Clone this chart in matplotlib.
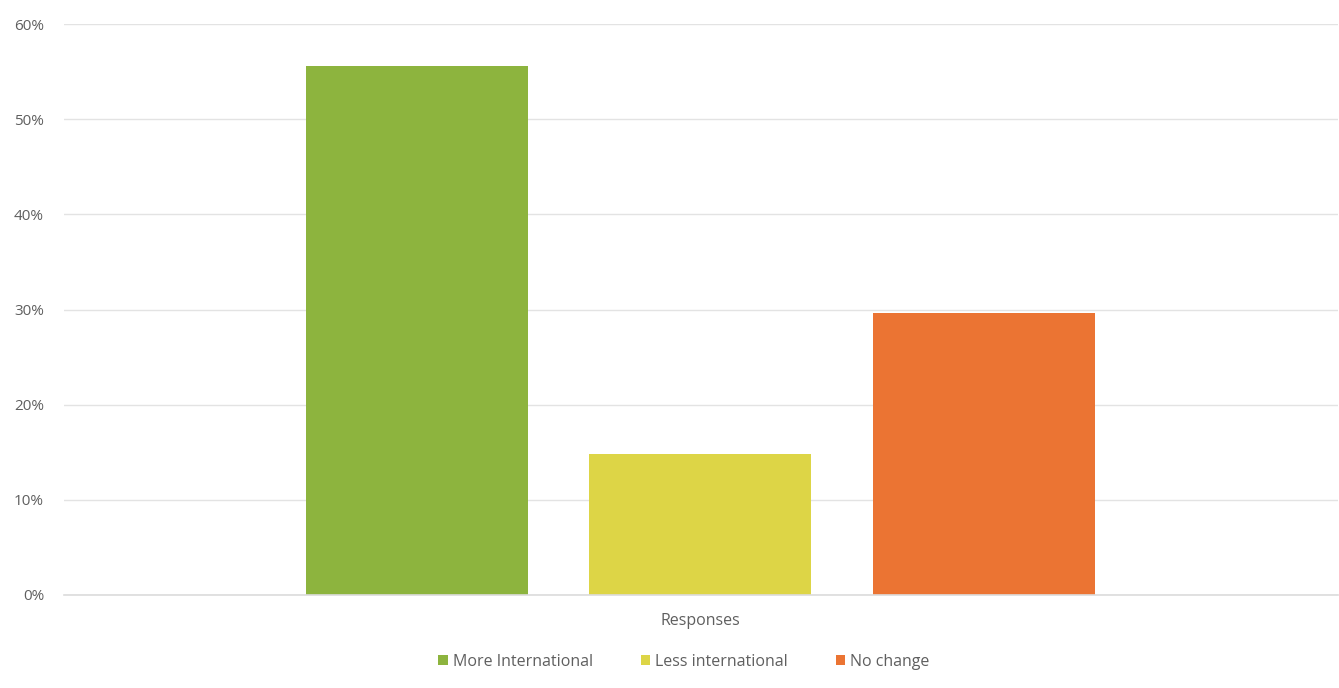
import matplotlib
matplotlib.use("Agg")
import matplotlib.pyplot as plt
from matplotlib.patches import Patch

plt.rcParams['font.family'] = ['Open Sans', 'DejaVu Sans']

category = "Responses"
series = ["More International", "Less international", "No change"]
values = [55.6, 14.8, 29.6]
colors = ["#8db43e", "#ddd546", "#eb7433"]
yticks = [0, 10, 20, 30, 40, 50, 60]
ytick_labels = ["0%", "10%", "20%", "30%", "40%", "50%", "60%"]

W, H = 1339, 688
fig = plt.figure(figsize=(W / 100, H / 100), dpi=100)
fig.patch.set_facecolor("white")
ax = fig.add_axes([64 / W, 93 / H, (1338 - 64) / W, (595 - 24) / H])

positions = [-1, 0, 1]
for p, v, c in zip(positions, values, colors):
    ax.bar(p, v, width=0.784, color=c, zorder=3)

ax.set_xlim(-2.248, 2.252)
ax.set_ylim(0, 60)
ax.set_yticks(yticks)
ax.set_yticklabels(ytick_labels, color="#5f5f5f", fontsize=11)
ax.tick_params(axis="y", length=0, pad=14.4)
ax.set_xticks([0])
ax.set_xticklabels([category], color="#5f5f5f", fontsize=11.5)
ax.tick_params(axis="x", length=0, pad=13)
ax.grid(axis="y", color="#e3e3e3", linewidth=1.0, zorder=0)
ax.axhline(0, color="#dcdcdc", linewidth=1.2, zorder=4, clip_on=False)
for s in ax.spines.values():
    s.set_visible(False)

handles = [Patch(facecolor=c, edgecolor="none") for c in colors]
fig.legend(handles, series, loc="center", bbox_to_anchor=(684 / W, 1 - 662 / H),
           ncol=3, frameon=False, fontsize=11.5, labelcolor="#5f5f5f",
           handlelength=0.6, handleheight=0.6, handletextpad=0.3, columnspacing=3.0)

fig.savefig("out.png", dpi=100, facecolor="white")
